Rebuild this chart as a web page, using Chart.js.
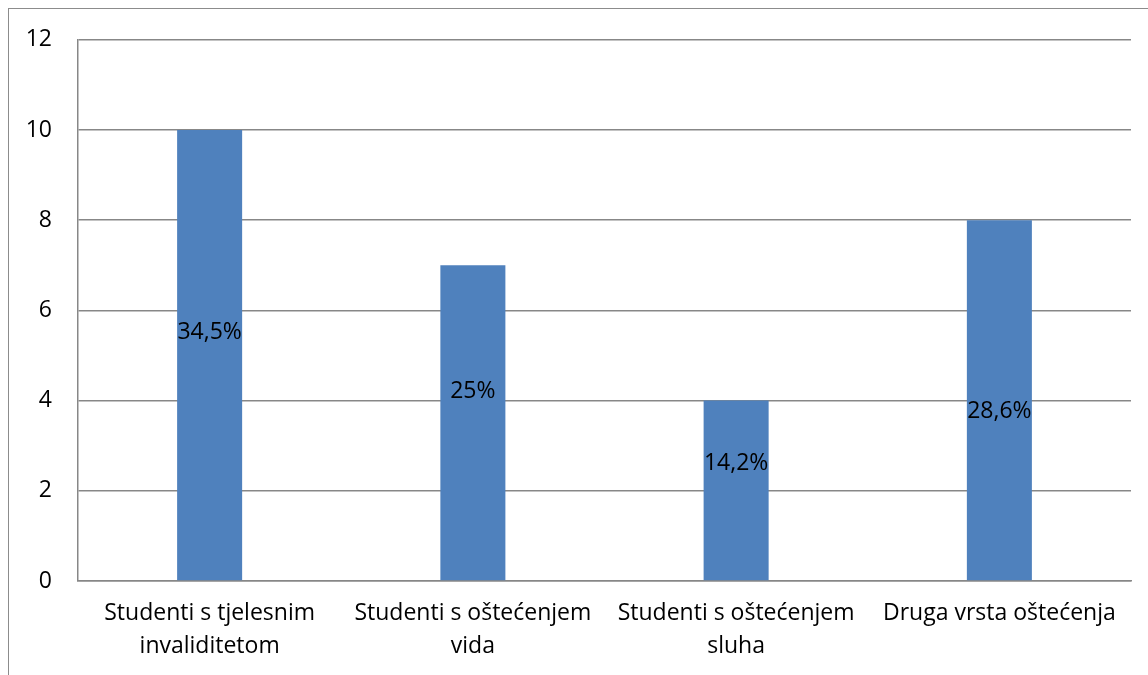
<!DOCTYPE html>
<html>
<head>
<meta charset="utf-8">
<script src="https://cdn.jsdelivr.net/npm/chart.js@4/dist/chart.umd.min.js"></script>
<style>
	body { margin: 0; background: #fff; }
	#frame { position: absolute; left: 8px; top: 8px; width: 1200px; height: 700px; border-left: 1px solid #8c8c8c; border-top: 1px solid #8c8c8c; }
	#chart { position: absolute; left: 0; top: 0; }
</style>
</head>
<body>
<div id="frame"></div>
<canvas id="chart" width="1148" height="675"></canvas>
<script>
//chart data
const categories = [
	['Studenti s tjelesnim', 'invaliditetom'],
	['Studenti s oštećenjem', 'vida'],
	['Studenti s oštećenjem', 'sluha'],
	'Druga vrsta oštećenja'
];
const values = [10, 7, 4, 8];
const percentLabels = ['34,5%', '25%', '14,2%', '28,6%'];
const percentLabelAt = [5.52, 4.21, 2.61, 3.76]; //y value where each label sits
const yTicks = [0, 2, 4, 6, 8, 10, 12];

const fontFamily = '"Open Sans", "Liberation Sans", sans-serif';
const fontSize = 23;
const gridColor = '#878787';

//draw the percent text on each bar
const percentPlugin = {
	id: 'percentLabels',
	afterDatasetsDraw(chart) {
		const ctx = chart.ctx;
		const meta = chart.getDatasetMeta(0);
		const yScale = chart.scales.y;
		ctx.save();
		ctx.font = fontSize + 'px ' + fontFamily;
		ctx.fillStyle = '#000';
		ctx.textAlign = 'center';
		ctx.textBaseline = 'middle';
		meta.data.forEach((bar, i) => {
			ctx.fillText(percentLabels[i], bar.x, yScale.getPixelForValue(percentLabelAt[i]));
		});
		ctx.restore();
	}
};

const chart = new Chart(document.getElementById('chart'), {
	type: 'bar',
	data: {
		labels: categories,
		datasets: [{
			data: values,
			backgroundColor: '#4f81bd',
			borderWidth: 0,
			categoryPercentage: 1,
			barPercentage: 0.247
		}]
	},
	options: {
		responsive: false,
		animation: false,
		layout: { padding: { top: 38, right: 17, left: 0, bottom: 0 } },
		plugins: {
			legend: { display: false },
			tooltip: { enabled: false }
		},
		scales: {
			x: {
				grid: { display: false, drawTicks: false },
				border: { display: true, color: gridColor, width: 1.5 },
				ticks: {
					color: '#000',
					padding: 16,
					maxRotation: 0,
					autoSkip: false,
					font: { family: fontFamily, size: fontSize, lineHeight: 1.43 }
				},
				afterFit: (scale) => { scale.height = 94; }
			},
			y: {
				min: 0,
				max: 12,
				afterBuildTicks: (scale) => { scale.ticks = yTicks.map(v => ({ value: v })); },
				grid: { color: gridColor, lineWidth: 1.5, drawTicks: false },
				border: { display: true, color: gridColor, width: 1.5 },
				ticks: {
					color: '#000',
					padding: 26,
					font: { family: fontFamily, size: fontSize }
				},
				afterFit: (scale) => { scale.width = 78; }
			}
		}
	},
	plugins: [percentPlugin]
});
</script>
</body>
</html>
